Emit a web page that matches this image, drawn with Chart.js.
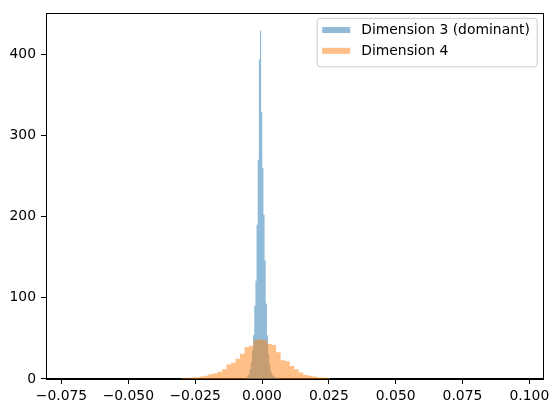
<!DOCTYPE html>
<html><head><meta charset="utf-8">
<script src="https://cdn.jsdelivr.net/npm/chart.js@4.4.1/dist/chart.umd.min.js"></script>
<style>html,body{margin:0;padding:0;background:#fff}#wrap{width:558px;height:413px}</style>
</head><body><div id="wrap"><canvas id="c" width="558" height="413"></canvas></div>
<script>
// ---- data ----
const seriesLabels = ['Dimension 3 (dominant)', 'Dimension 4'];
const blueBinStart = -0.005909;
const blueBinWidth = 0.00043;
const blueCounts = [2, 4, 6, 12, 20, 35, 54, 90, 121, 190, 270, 394, 429, 329, 260, 202, 146, 93, 54, 30, 18, 10, 6, 4, 3, 2, 1, 1];
const orangeBinStart = -0.030175;
const orangeBinWidth = 0.001689;
const orangeCounts = [1, 1, 2, 2, 3, 4, 6, 7, 9, 12, 18, 20, 25, 31, 39, 41, 48, 49, 48, 43, 42, 33, 23, 22, 16, 12, 8, 5, 4, 3, 2, 2, 1];
const xTickValues = [-0.075, -0.05, -0.025, 0, 0.025, 0.05, 0.075, 0.1];
const yTickValues = [0, 100, 200, 300, 400];
const xRange = [-0.0808, 0.1050];
const yRange = [0, 450.4];

function toSteps(start, width, counts) {
  const pts = counts.map((c, i) => ({x: start + i * width, y: c}));
  pts.push({x: start + counts.length * width, y: 0});
  return pts;
}

Chart.defaults.font.family = '"DejaVu Sans", sans-serif';
Chart.defaults.font.size = 13.9;
Chart.defaults.color = '#000';

const frame = {
  id: 'frame',
  afterDatasetsDraw(chart) {
    const a = chart.chartArea, ctx = chart.ctx;
    ctx.save();
    ctx.strokeStyle = '#000';
    ctx.lineWidth = 1;
    ctx.strokeRect(Math.round(a.left) + 0.5, Math.round(a.top) + 0.5,
                   Math.round(a.right) - Math.round(a.left), Math.round(a.bottom) - Math.round(a.top));
    ctx.restore();
  }
};

const legendBox = {
  id: 'legendBox',
  afterDraw(chart) {
    const a = chart.chartArea, ctx = chart.ctx;
    const ds = chart.data.datasets;
    const right = a.right - 5.5, top = a.top + 5;
    const w = 220, h = 48.5, x0 = right - w, r = 3;
    ctx.save();
    ctx.beginPath();
    ctx.moveTo(x0 + r, top);
    ctx.lineTo(x0 + w - r, top);
    ctx.quadraticCurveTo(x0 + w, top, x0 + w, top + r);
    ctx.lineTo(x0 + w, top + h - r);
    ctx.quadraticCurveTo(x0 + w, top + h, x0 + w - r, top + h);
    ctx.lineTo(x0 + r, top + h);
    ctx.quadraticCurveTo(x0, top + h, x0, top + h - r);
    ctx.lineTo(x0, top + r);
    ctx.quadraticCurveTo(x0, top, x0 + r, top);
    ctx.closePath();
    ctx.fillStyle = 'rgba(255,255,255,0.8)';
    ctx.fill();
    ctx.strokeStyle = '#cccccc';
    ctx.lineWidth = 1;
    ctx.stroke();
    ctx.font = '13.9px "DejaVu Sans"';
    ctx.textBaseline = 'middle';
    ds.forEach((d, i) => {
      const cy = top + 11.7 + i * 20.8;
      ctx.fillStyle = d.backgroundColor;
      ctx.fillRect(x0 + 5, cy - 3, 28, 6);
      ctx.fillStyle = '#000';
      ctx.fillText(d.label, x0 + 44, cy + 0.5);
    });
    ctx.restore();
  }
};

new Chart(document.getElementById('c'), {
  type: 'line',
  data: {
    datasets: [
      {
        label: seriesLabels[0],
        data: toSteps(blueBinStart, blueBinWidth, blueCounts),
        stepped: 'before',
        fill: 'origin',
        backgroundColor: 'rgba(31,119,180,0.5)',
        borderColor: 'rgba(0,0,0,0)',
        borderWidth: 0,
        pointRadius: 0,
        order: 1
      },
      {
        label: seriesLabels[1],
        data: toSteps(orangeBinStart, orangeBinWidth, orangeCounts),
        stepped: 'before',
        fill: 'origin',
        backgroundColor: 'rgba(255,127,14,0.5)',
        borderColor: 'rgba(0,0,0,0)',
        borderWidth: 0,
        pointRadius: 0,
        order: 0
      }
    ]
  },
  options: {
    responsive: false,
    animation: false,
    devicePixelRatio: 1,
    events: [],
    layout: {padding: {top: 10, right: 15.3, left: 0, bottom: 0}},
    plugins: {legend: {display: false}, tooltip: {enabled: false}},
    scales: {
      x: {
        type: 'linear',
        min: xRange[0], max: xRange[1],
        afterBuildTicks: s => { s.ticks = xTickValues.map(v => ({value: v})); },
        afterFit: s => { s.height = 34; },
        grid: {drawOnChartArea: false, drawTicks: true, tickLength: 5, color: '#000', lineWidth: 1},
        border: {display: true, color: '#000', width: 1},
        ticks: {
          padding: 4,
          maxRotation: 0,
          autoSkip: false,
          callback: v => (v < 0 ? '\u2212' : '') + Math.abs(v).toFixed(3)
        }
      },
      y: {
        type: 'linear',
        min: yRange[0], max: yRange[1],
        afterBuildTicks: s => { s.ticks = yTickValues.map(v => ({value: v})); },
        afterFit: s => { s.width = 46; },
        grid: {drawOnChartArea: false, drawTicks: true, tickLength: 5, color: '#000', lineWidth: 1},
        border: {display: true, color: '#000', width: 1},
        ticks: {padding: 5, callback: v => String(v)}
      }
    }
  },
  plugins: [frame, legendBox]
});
</script>
</body></html>
